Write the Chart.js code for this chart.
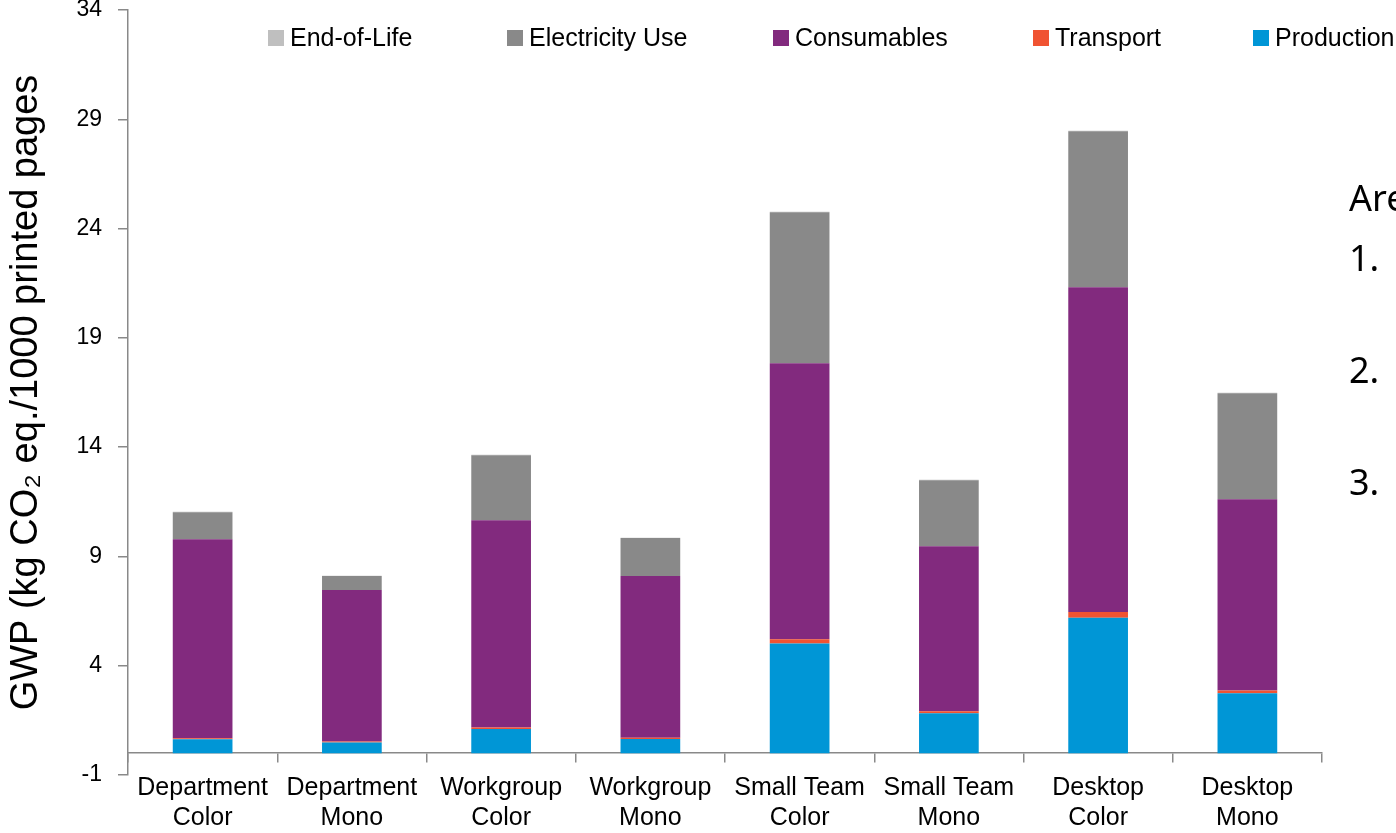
<!DOCTYPE html>
<html><head><meta charset="utf-8">
<script src="https://cdn.jsdelivr.net/npm/chart.js@4.4.0/dist/chart.umd.min.js"></script>
<style>
html,body{margin:0;padding:0;background:#fff;overflow:hidden;}
#wrap{position:relative;width:1396px;height:833px;overflow:hidden;}
.side{position:absolute;left:1349px;font-family:'Noto Sans','Open Sans',sans-serif;font-size:36px;color:#000;white-space:nowrap;line-height:1;}
</style></head><body>
<div id="wrap"><canvas id="c" width="1396" height="833"></canvas>
<div class="side" style="top:180px">Are</div>
<div class="side" style="top:240px">1.</div>
<div class="side" style="top:352px">2.</div>
<div class="side" style="top:464px">3.</div>
</div>
<script>
const categories = [["Department","Color"],["Department","Mono"],["Workgroup","Color"],["Workgroup","Mono"],["Small Team","Color"],["Small Team","Mono"],["Desktop","Color"],["Desktop","Mono"]];
const production  = [0.63, 0.49, 1.11, 0.65, 5.02, 1.83, 6.19, 2.74];
const transport   = [0.05, 0.04, 0.06, 0.05, 0.19, 0.09, 0.27, 0.13];
const consumables = [9.11, 6.93, 9.49, 7.40, 12.63, 7.55, 14.86, 8.75];
const electricity = [1.23, 0.64, 2.97, 1.74, 6.91, 3.02, 7.13, 4.85];
const endOfLife   = [0.02, 0.02, 0.02, 0.02, 0.02, 0.02, 0.02, 0.02];
const yTicks = [-1, 4, 9, 14, 19, 24, 29, 34];
const yTitle = "GWP (kg CO\u2082 eq./1000 printed pages";

const FONT = "'Liberation Sans', Arial, sans-serif";

const topLegend = {
  id: 'topLegend',
  afterDraw(chart) {
    const ctx = chart.ctx;
    const slots = [268, 507, 773, 1033, 1253];
    ctx.save();
    ctx.font = '25px ' + FONT;
    ctx.textBaseline = 'middle';
    const y = 38;
    const items = chart.data.datasets.slice().reverse();
    items.forEach((ds, i) => {
      const x = slots[i];
      ctx.fillStyle = ds.backgroundColor;
      ctx.fillRect(x, y - 8, 16, 16);
      ctx.fillStyle = '#000';
      ctx.fillText(ds.label, x + 22, y + 1);
    });
    ctx.restore();
  }
};

new Chart(document.getElementById('c'), {
  type: 'bar',
  data: {
    labels: categories,
    datasets: [
      {label: 'Production', data: production, backgroundColor: '#0096D6'},
      {label: 'Transport', data: transport, backgroundColor: '#F05332'},
      {label: 'Consumables', data: consumables, backgroundColor: '#822A7E'},
      {label: 'Electricity Use', data: electricity, backgroundColor: '#898989'},
      {label: 'End-of-Life', data: endOfLife, backgroundColor: '#BFBFBF'}
    ]
  },
  options: {
    responsive: false,
    devicePixelRatio: 1,
    animation: false,
    layout: {padding: {left: 0, right: 74, top: 10, bottom: 58}},
    datasets: {bar: {categoryPercentage: 1, barPercentage: 0.4, borderWidth: 0}},
    plugins: {legend: {display: false}, tooltip: {enabled: false}},
    scales: {
      x: {
        stacked: true,
        position: {y: 0},
        grid: {drawOnChartArea: false, drawTicks: true, tickLength: 9, color: '#898989', lineWidth: 1.5, offset: true},
        border: {display: true, color: '#898989', width: 1.5},
        ticks: {color: '#000', font: {family: FONT, size: 25, lineHeight: 1.2}, padding: 11, maxRotation: 0, autoSkip: false},
        afterFit(s) { s.paddingLeft = 0; s.paddingRight = 0; }
      },
      y: {
        stacked: true,
        min: -1, max: 34,
        afterBuildTicks(s) { s.ticks = yTicks.map(v => ({value: v})); },
        afterFit(s) { s.width = 128; s.paddingTop = 0; s.paddingBottom = 0; },
        grid: {drawOnChartArea: false, drawTicks: true, tickLength: 10, color: '#898989', lineWidth: 1.5},
        border: {display: true, color: '#898989', width: 1.5},
        ticks: {color: '#000', font: {family: FONT, size: 23}, padding: 16},
        title: {display: true, text: yTitle, color: '#000', font: {family: FONT, size: 38}, padding: {top: 4, bottom: 0}}
      }
    }
  },
  plugins: [topLegend]
});
</script>
</body></html>
